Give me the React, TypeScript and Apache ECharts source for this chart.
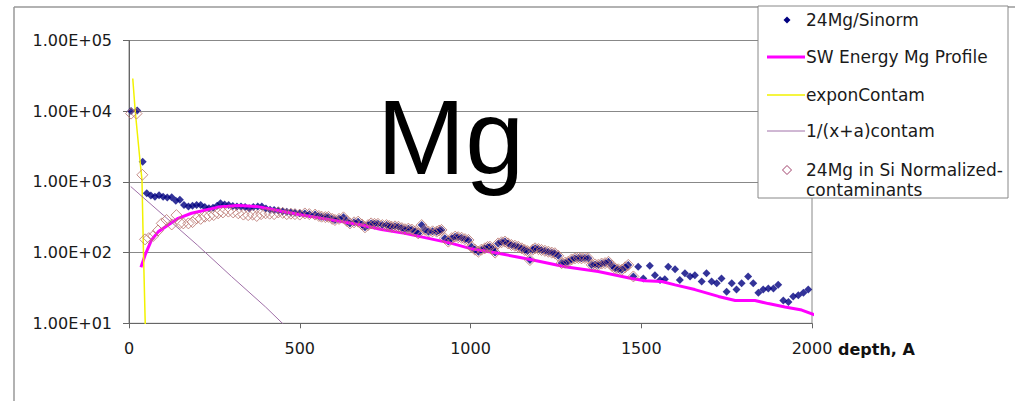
import React, { useEffect, useRef } from "react";
import * as echarts from "echarts";

// ---- Data (depth in Å, value) ----
const sinorm: [number, number][] = [
  [6, 10100], [24, 10200], [40, 1930], [52, 690], [64, 640], [76, 618], [88, 650], [100, 618],
  [112, 600], [125, 607], [137, 540], [149, 560], [161, 471], [174, 447], [186, 460], [198, 470],
  [210, 471], [222, 440], [234, 424], [246, 430], [258, 460], [268, 498], [280, 480], [292, 471],
  [304, 455], [316, 447], [328, 450], [340, 440], [352, 424], [364, 440], [377, 447], [389, 447],
  [401, 420], [413, 405], [425, 402], [437, 395], [450, 385], [462, 378], [474, 370], [486, 365],
  [500, 360], [515, 358], [528, 350], [545, 345], [556, 330], [564, 322], [575, 318], [584, 320],
  [595, 300], [603, 289], [615, 300], [628, 315], [638, 280], [647, 259], [659, 268], [671, 274],
  [682, 250], [691, 228], [700, 245], [709, 259], [719, 255], [729, 255], [742, 245], [754, 245],
  [762, 238], [769, 232], [779, 235], [789, 232], [799, 222], [808, 214], [818, 218], [828, 212],
  [838, 200], [847, 187], [857, 245], [867, 210], [877, 198], [889, 200], [901, 198], [908, 205],
  [915, 209], [925, 160], [935, 143], [945, 160], [955, 168], [964, 165], [974, 162], [984, 155],
  [994, 151], [1003, 121], [1013, 110], [1023, 103], [1032, 110], [1042, 115], [1050, 120], [1057, 121],
  [1065, 112], [1072, 100], [1081, 135], [1091, 140], [1101, 143], [1110, 135], [1120, 128], [1130, 125],
  [1140, 121], [1150, 115], [1159, 109], [1167, 105], [1174, 78.5], [1182, 110], [1189, 115], [1199, 112],
  [1208, 109], [1218, 106], [1228, 103], [1238, 100], [1247, 98], [1257, 90], [1267, 71], [1277, 72],
  [1286, 74], [1296, 80], [1306, 83], [1316, 84], [1325, 83], [1335, 84], [1345, 83], [1355, 67],
  [1365, 68], [1374, 67], [1384, 70], [1394, 71], [1404, 74], [1414, 65], [1423, 60], [1433, 58],
  [1443, 57], [1453, 62], [1462, 67], [1477, 46], [1491, 63], [1506, 43], [1525, 65], [1540, 48],
  [1555, 41], [1569, 42], [1579, 63], [1599, 58], [1613, 41], [1628, 51], [1643, 46], [1657, 48],
  [1677, 39], [1691, 51], [1706, 39], [1721, 37], [1735, 43], [1750, 28], [1765, 37], [1779, 30],
  [1794, 37], [1813, 46], [1828, 37], [1843, 27], [1857, 30], [1872, 31], [1887, 31], [1901, 35],
  [1916, 21], [1931, 20], [1945, 24], [1960, 25], [1975, 27], [1989, 30],
];

const swProfile: [number, number][] = [
  [35, 62], [47, 92], [66, 151], [86, 198], [115, 245], [144, 305], [183, 360], [222, 398],
  [261, 440], [320, 465], [378, 447], [447, 385], [506, 340], [584, 295], [681, 245], [739, 212],
  [808, 187], [877, 159], [945, 135], [1003, 113], [1081, 98], [1179, 79], [1277, 63], [1374, 54],
  [1472, 43], [1511, 40], [1560, 39], [1599, 35], [1657, 30], [1726, 24], [1775, 21], [1833, 21],
  [1872, 19], [1921, 17], [1970, 15.4], [2020, 12.5],
];

const exponContam: [number, number][] = [
  [11, 29000], [18, 10300], [32, 2040], [38, 1070], [42, 120], [48, 8],
];

const recipContam: [number, number][] = [
  [5, 860], [100, 340], [200, 128], [300, 46], [400, 17], [470, 8],
];

// Normalized-minus-contaminants: early part read separately; beyond ~510 Å it overlays 24Mg/Sinorm.
const normalizedEarly: [number, number][] = [
  [6, 9250], [22, 9250], [39, 1260], [47, 154], [58, 160], [71, 172], [85, 205], [96, 259],
  [110, 289], [125, 250], [139, 339], [150, 262], [159, 259], [174, 259], [186, 270], [198, 305],
  [210, 300], [222, 322], [235, 330], [248, 340], [261, 360], [275, 370], [291, 380], [305, 370],
  [320, 360], [335, 345], [349, 339], [362, 345], [374, 330], [387, 350], [400, 360], [412, 355],
  [425, 350], [437, 370], [450, 365], [462, 350], [474, 355], [486, 350], [500, 345],
];
const normalizedEndDepth = 1477;

const xTicks = [0, 500, 1000, 1500, 2000];
const yMin = 10;
const yMax = 100000;

const FONT = "DejaVu Sans";

export default function App() {
  const ref = useRef<HTMLDivElement>(null);

  useEffect(() => {
    if (!ref.current) return;
    const chart = echarts.init(ref.current, undefined, { renderer: "svg" });

    const normalized: [number, number][] = normalizedEarly.concat(
      sinorm.filter(([d]) => d > 505 && d <= normalizedEndDepth)
    );

    const fmtExp = (v: number) => {
      const e = Math.round(Math.log10(v));
      return `1.00E+${String(e).padStart(2, "0")}`;
    };

    const legendX = 758;
    const legendY = 6;
    const textX = 806;
    const rows = [20, 57, 95, 131, 170];

    const diamond = (cx: number, cy: number, r: number) => [
      [cx, cy - r],
      [cx + r, cy],
      [cx, cy + r],
      [cx - r, cy],
    ];

    const legendText = (text: string, y: number) => ({
      type: "text",
      z: 101,
      style: {
        text,
        x: textX,
        y,
        fill: "#1a1a1a",
        font: `17px "${FONT}"`,
        verticalAlign: "middle",
        align: "left",
      },
    });

    chart.setOption({
      animation: false,
      backgroundColor: "#fff",
      grid: {
        left: 129,
        right: 1015 - 812,
        top: 40.5,
        bottom: 401 - 323.3,
        show: true,
        borderColor: "#888",
        borderWidth: 1,
        backgroundColor: "transparent",
      },
      xAxis: {
        type: "value",
        min: xTicks[0],
        max: xTicks[xTicks.length - 1],
        interval: 500,
        axisLine: { show: true, lineStyle: { color: "#666", width: 1 } },
        axisTick: { show: true, length: 5, lineStyle: { color: "#666" } },
        splitLine: { show: false },
        axisLabel: {
          margin: 17,
          fontSize: 16,
          fontFamily: FONT,
          color: "#1a1a1a",
          formatter: (v: number) => String(v),
        },
      },
      yAxis: {
        type: "log",
        logBase: 10,
        min: yMin,
        max: yMax,
        axisLine: { show: true, lineStyle: { color: "#666", width: 1 } },
        axisTick: { show: true, length: 6, lineStyle: { color: "#666" } },
        splitLine: { show: true, lineStyle: { color: "#888", width: 1 } },
        minorTick: { show: false },
        axisLabel: {
          margin: 17,
          fontSize: 16,
          fontFamily: FONT,
          color: "#1a1a1a",
          formatter: (v: number) => fmtExp(v),
        },
      },
      series: [
        {
          name: "24Mg/Sinorm",
          type: "scatter",
          symbol: "diamond",
          symbolSize: 8,
          data: sinorm,
          itemStyle: { color: "#000080" },
          z: 2,
        },
        {
          name: "SW Energy Mg Profile",
          type: "line",
          data: swProfile,
          showSymbol: false,
          clip: false,
          lineStyle: { color: "#ff00ff", width: 3 },
          z: 3,
        },
        {
          name: "exponContam",
          type: "line",
          data: exponContam,
          showSymbol: false,
          lineStyle: { color: "#f2f200", width: 1.5 },
          z: 3,
        },
        {
          name: "1/(x+a)contam",
          type: "line",
          data: recipContam,
          showSymbol: false,
          lineStyle: { color: "#a070a8", width: 1 },
          z: 3,
        },
        {
          name: "24Mg in Si Normalized-contaminants",
          type: "scatter",
          symbol: "diamond",
          symbolSize: 11,
          data: normalized,
          itemStyle: { color: "transparent", borderColor: "#b8706a", borderWidth: 1 },
          z: 4,
        },
      ],
      graphic: [
        // outer chart border
        {
          type: "line",
          z: 100,
          shape: { x1: 14, y1: 7, x2: 1015, y2: 7 },
          style: { stroke: "#999", lineWidth: 1.5 },
        },
        {
          type: "line",
          z: 100,
          shape: { x1: 14, y1: 7, x2: 14, y2: 401 },
          style: { stroke: "#999", lineWidth: 1.5 },
        },
        // title
        {
          type: "text",
          z: 50,
          style: {
            text: "Mg",
            x: 377,
            y: 137.3,
            fill: "#000",
            font: `106px "Liberation Sans"`,
            verticalAlign: "middle",
            align: "left",
          },
        },
        // x axis name
        {
          type: "text",
          z: 50,
          style: {
            text: "depth, A",
            x: 838,
            y: 349,
            fill: "#111",
            font: `bold 16px "${FONT}"`,
            verticalAlign: "middle",
            align: "left",
          },
        },
        // legend box
        {
          type: "rect",
          z: 100,
          shape: { x: legendX, y: legendY, width: 250, height: 192 },
          style: { fill: "#fff", stroke: "#888", lineWidth: 1 },
        },
        {
          type: "polygon",
          z: 101,
          shape: { points: diamond(787, rows[0], 3.5) },
          style: { fill: "#000080" },
        },
        legendText("24Mg/Sinorm", rows[0]),
        {
          type: "line",
          z: 101,
          shape: { x1: 767, y1: rows[1], x2: 805, y2: rows[1] },
          style: { stroke: "#ff00ff", lineWidth: 3 },
        },
        legendText("SW Energy Mg Profile", rows[1]),
        {
          type: "line",
          z: 101,
          shape: { x1: 767, y1: rows[2], x2: 805, y2: rows[2] },
          style: { stroke: "#f2f200", lineWidth: 1.5 },
        },
        legendText("exponContam", rows[2]),
        {
          type: "line",
          z: 101,
          shape: { x1: 767, y1: rows[3], x2: 805, y2: rows[3] },
          style: { stroke: "#a070a8", lineWidth: 1 },
        },
        legendText("1/(x+a)contam", rows[3]),
        {
          type: "polygon",
          z: 101,
          shape: { points: diamond(787, rows[4], 4.5) },
          style: { fill: "none", stroke: "#a0406a", lineWidth: 1 },
        },
        legendText("24Mg in Si Normalized-", rows[4]),
        legendText("contaminants", 190),
      ],
    });

    return () => chart.dispose();
  }, []);

  return (
    <div
      ref={ref}
      style={{ position: "fixed", left: 0, top: 0, width: 1015, height: 401, background: "#fff" }}
    />
  );
}
